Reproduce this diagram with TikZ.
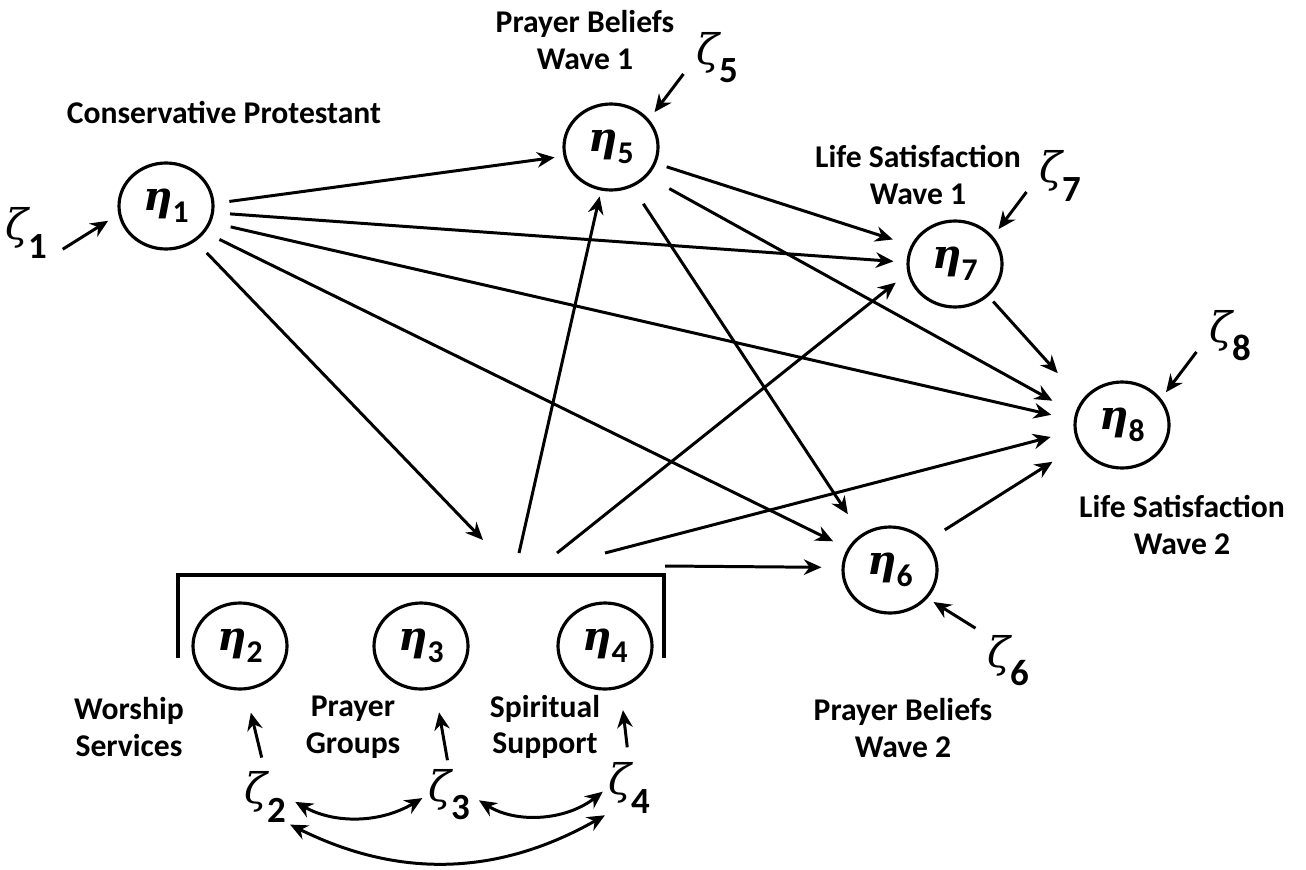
\documentclass[tikz,border=0pt]{standalone}
\usepackage{fontspec}
\setmainfont{Carlito}
\newfontfamily\grkfont{DejaVu Serif}
\usepackage{amsmath}
\usetikzlibrary{shapes.geometric, arrows.meta}

\newcommand{\etalab}[1]{{\grkfont\bfseries\itshape η}\raisebox{-0.6ex}{\fontsize{9}{9}\selectfont\bfseries #1}}
\newcommand{\zetalab}[1]{{\grkfont\itshape ζ}\raisebox{-0.9ex}{\fontsize{10.5}{10.5}\selectfont\bfseries #1}}

\begin{document}
\begin{tikzpicture}[
    lv/.style={draw,ellipse,line width=0.9pt,minimum width=0.94cm,minimum height=0.86cm,
               inner sep=0pt,font=\fontsize{11.5}{11.5}\selectfont},
    dist/.style={inner sep=0pt,font=\fontsize{12}{12}\selectfont},
    lab/.style={align=center,font=\fontsize{9}{10.4}\selectfont\bfseries},
    arr/.style={-{Stealth[length=5pt,width=4.4pt]},line width=0.85pt},
    dbl/.style={{Stealth[length=5pt,width=4.4pt]}-{Stealth[length=5pt,width=4.4pt]},line width=0.85pt}]

  \useasboundingbox (0,0) rectangle (13.06,-8.69);

  % Latent variables
  \node[lv] (e1) at (1.66,-2.06) {\etalab{1}};
  \node[lv] (e5) at (6.11,-1.47) {\etalab{5}};
  \node[lv] (e7) at (9.55,-2.64) {\etalab{7}};
  \node[lv] (e8) at (11.22,-4.25) {\etalab{8}};
  \node[lv] (e6) at (8.90,-5.70) {\etalab{6}};
  \node[lv] (e2) at (2.40,-6.46) {\etalab{2}};
  \node[lv] (e3) at (4.21,-6.46) {\etalab{3}};
  \node[lv] (e4) at (6.05,-6.46) {\etalab{4}};

  % Disturbances
  \node[dist] (z1) at (0.26,-2.33) {\zetalab{1}};
  \node[dist] (z5) at (7.17,-0.58) {\zetalab{5}};
  \node[dist] (z7) at (10.60,-1.76) {\zetalab{7}};
  \node[dist] (z8) at (12.30,-3.36) {\zetalab{8}};
  \node[dist] (z6) at (10.08,-6.61) {\zetalab{6}};
  \node[dist] (z2) at (2.65,-7.97) {\zetalab{2}};
  \node[dist] (z3) at (4.49,-7.95) {\zetalab{3}};
  \node[dist] (z4) at (6.29,-7.88) {\zetalab{4}};

  % Labels
  \node[lab] (lcp) at (2.24,-1.12) {Conservative Protestant};
  \node[lab] (lpb1) at (5.85,-0.40) {Prayer Beliefs\\Wave 1};
  \node[lab] (lls1) at (9.18,-1.75) {Life Satisfaction\\Wave 1};
  \node[lab] (lls2) at (11.82,-5.25) {Life Satisfaction\\Wave 2};
  \node[lab] (lpb2) at (9.03,-7.28) {Prayer Beliefs\\Wave 2};
  \node[lab] (lws) at (1.29,-7.27) {Worship\\Services};
  \node[lab] (lpg) at (3.53,-7.27) {Prayer\\Groups};
  \node[lab] (lss) at (5.45,-7.27) {Spiritual\\Support};

  % Bracket round the three practices
  \draw[line width=1.3pt] (1.78,-6.58) |- (6.64,-5.75) -- (6.64,-6.58);
  \coordinate (grpin) at (4.83,-5.40);
  \coordinate (grp5) at (5.19,-5.53);
  \coordinate (grp7) at (5.57,-5.53);
  \coordinate (grp8) at (6.05,-5.53);
  \coordinate (grp6) at (6.65,-5.66);

  % Structural paths
  \draw[arr,shorten <=0.15cm,shorten >=0.09cm] (e1.3) -- (e5.191);
  \draw[arr,shorten <=0.16cm,shorten >=0.13cm] (e1.-8) -- (e7.178);
  \draw[arr,shorten <=0.20cm,shorten >=0.23cm] (e1.-20) -- (e8.174);
  \draw[arr,shorten <=0.16cm,shorten >=0.16cm] (e1.-34) -- (e6.153);
  \draw[arr,shorten <=0.16cm] (e1.-50) -- (grpin);
  \draw[arr,shorten <=0.11cm,shorten >=0.19cm] (e5.-20) -- (e7.157);
  \draw[arr,shorten <=0.25cm,shorten >=0.26cm] (e5.-39) -- (e8.166);
  \draw[arr,shorten <=0.20cm,shorten >=0.24cm] (e5.-62) -- (e6.129);
  \draw[arr,shorten >=0.06cm] (grp5) -- (e5.257);
  \draw[arr,shorten >=0.15cm] (grp7) -- (e7.191);
  \draw[arr,shorten >=0.24cm] (grp8) -- (e8.187);
  \draw[arr,shorten >=0.20cm] (grp6) -- (e6.177);
  \draw[arr,shorten <=0.07cm,shorten >=0.36cm] (e7.-44) -- (e8.148);
  \draw[arr,shorten <=0.21cm,shorten >=0.31cm] (e6.38) -- (e8.205);

  % Disturbance paths
  \draw[arr,shorten <=0.18cm,shorten >=0.12cm] (z1.south east) -- (e1.190);
  \draw[arr,shorten <=0.20cm,shorten >=0.09cm] (z5.west) -- (e5.36);
  \draw[arr,shorten <=0.20cm,shorten >=0.09cm] (z7.west) -- (e7.36);
  \draw[arr,shorten <=0.20cm,shorten >=0.08cm] (z8.west) -- (e8.34);
  \draw[arr,shorten <=0.13cm,shorten >=0.07cm] (z6.north west) -- (e6.-37);
  \draw[arr,shorten <=0.14cm,shorten >=0.23cm] (z2.north) -- (e2.-83);
  \draw[arr,shorten <=0.09cm,shorten >=0.24cm] (z3.north) -- (e3.-72);
  \draw[arr,shorten <=0.15cm,shorten >=0.22cm] (z4.north) -- (e4.-70);

  % Covariances
  \draw[dbl,shorten <=0.1cm,shorten >=0.06cm] (z2.east) to[bend right=30] (z3.west);
  \draw[dbl,shorten <=0.1cm,shorten >=0.06cm] (z3.east) to[bend right=35] (z4.west);
  \draw[dbl,shorten <=0.04cm,shorten >=0.03cm] (z2.south east) to[bend right=28] (z4.south west);
\end{tikzpicture}
\end{document}
